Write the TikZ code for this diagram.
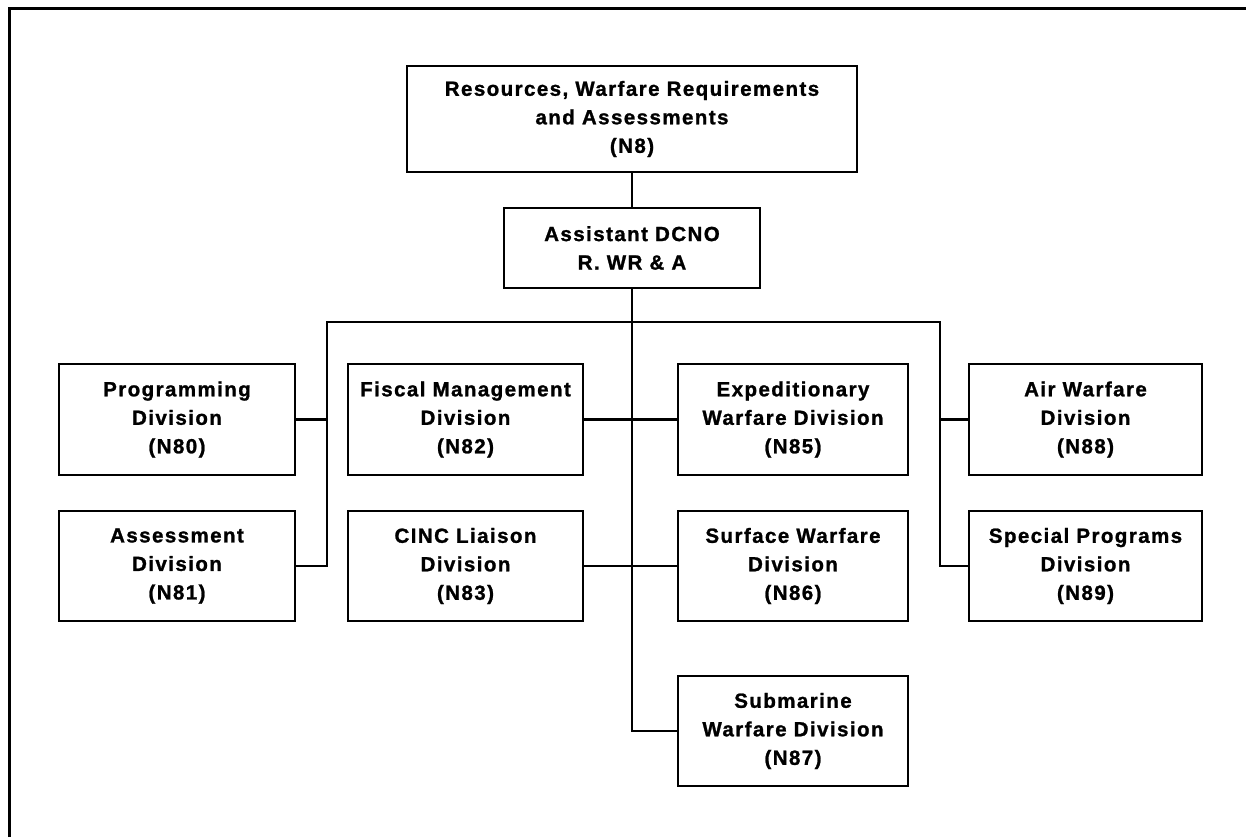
\documentclass[tikz,border=0pt]{standalone}
\usepackage{fontspec}
\newfontfamily\chartFont{Liberation Sans}[LetterSpace=7, BoldFeatures={FakeBold=1.2}]
\tikzset{
  divBox/.style={draw, line width=2.8pt, align=center, inner sep=0pt,
    font={\chartFont\bfseries\fontsize{20.5}{28.5}\selectfont}},
  orgLine/.style={line width=2.2pt}
}
\begin{document}
\begin{tikzpicture}[x=1pt,y=-1pt]
\useasboundingbox (0,0) rectangle (1246,837);
\draw[line width=3pt] (9,837) -- (9,9) -- (1246,9);
\node[divBox, minimum width=450, minimum height=106] (n8) at (632,119) {Resources, Warfare Requirements\\and Assessments\\(N8)};
\node[divBox, minimum width=256, minimum height=80] (adcno) at (632,248) {Assistant DCNO\\R. WR \& A};
\node[divBox, minimum width=236, minimum height=111] (n80) at (177,419.5) {Programming\\Division\\(N80)};
\node[divBox, minimum width=236, minimum height=110] (n81) at (177,566) {Assessment\\Division\\(N81)};
\node[divBox, minimum width=235, minimum height=111] (n82) at (465.5,419.5) {Fiscal Management\\Division\\(N82)};
\node[divBox, minimum width=235, minimum height=110] (n83) at (465.5,566) {CINC Liaison\\Division\\(N83)};
\node[divBox, minimum width=230, minimum height=111] (n85) at (793,419.5) {Expeditionary\\Warfare Division\\(N85)};
\node[divBox, minimum width=230, minimum height=110] (n86) at (793,566) {Surface Warfare\\Division\\(N86)};
\node[divBox, minimum width=230, minimum height=110] (n87) at (793,731) {Submarine\\Warfare Division\\(N87)};
\node[divBox, minimum width=233, minimum height=111] (n88) at (1085.5,419.5) {Air Warfare\\Division\\(N88)};
\node[divBox, minimum width=233, minimum height=110] (n89) at (1085.5,566) {Special Programs\\Division\\(N89)};
\coordinate (busL) at (327,322);
\coordinate (busR) at (940,322);
\draw[orgLine] (n8) -- (adcno);
\draw[orgLine] (adcno) |- (n87);
\draw[orgLine] (n81) -| (busL) -- (busR) |- (n89);
\draw[orgLine] (n80) -- (n80 -| busL);
\draw[orgLine] (n88) -- (n88 -| busR);
\draw[orgLine] (n82) -- (n85);
\draw[orgLine] (n83) -- (n86);
\end{tikzpicture}
\end{document}
